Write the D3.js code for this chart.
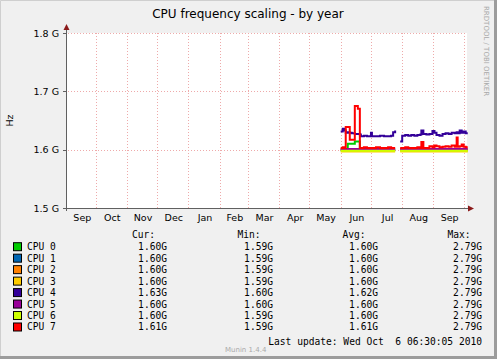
<!DOCTYPE html>
<html>
<head>
<meta charset="utf-8">
<script src="https://cdn.jsdelivr.net/npm/d3@7"></script>
<style>
  body { margin: 0; background: #fff; }
  svg { display: block; }
</style>
</head>
<body>
<svg id="chart" width="497" height="359"></svg>
<script>
// breakpoints (rrd style steps), null = no data (gap end of july)
var dates = [
  "2010-06-01","2010-06-03","2010-06-05","2010-06-06","2010-06-08","2010-06-10","2010-06-12","2010-06-15",
  "2010-06-18","2010-06-20","2010-06-21","2010-06-24","2010-06-27","2010-06-30","2010-07-01","2010-07-02",
  "2010-07-06","2010-07-10","2010-07-14","2010-07-18","2010-07-21","2010-07-23","2010-07-25","2010-07-26",
  "2010-07-30","2010-08-01","2010-08-04","2010-08-07","2010-08-10","2010-08-13","2010-08-16","2010-08-19",
  "2010-08-20","2010-08-22","2010-08-25","2010-08-28","2010-08-31","2010-09-02","2010-09-04","2010-09-07",
  "2010-09-10","2010-09-13","2010-09-16","2010-09-19","2010-09-22","2010-09-24","2010-09-25","2010-09-27",
  "2010-09-29","2010-10-01","2010-10-03","2010-10-05"];

var cpu0 = [1.600,1.600,1.600,1.600,1.610,1.610,1.610,1.614, 1.614,1.600,1.600,1.600,1.600,1.600,1.600,1.600,
  1.600,1.600,1.600,1.600,1.600,1.600,1.600,null, 1.600,1.600,1.600,1.600,1.600,1.600,1.600,1.600,
  1.600,1.600,1.600,1.600,1.600,1.600,1.600,1.600, 1.600,1.600,1.600,1.600,1.600,1.600,1.600,1.600,
  1.600,1.600,1.600,1.600];
var cpu1 = [1.599,1.599,1.599,1.599,1.599,1.599,1.599,1.599, 1.599,1.599,1.599,1.599,1.599,1.599,1.599,1.599,
  1.599,1.599,1.599,1.599,1.599,1.599,1.599,null, 1.599,1.599,1.599,1.599,1.599,1.599,1.599,1.599,
  1.599,1.599,1.599,1.599,1.599,1.599,1.599,1.599, 1.599,1.599,1.599,1.599,1.599,1.599,1.599,1.599,
  1.599,1.599,1.599,1.599];
var cpu2 = [1.600,1.600,1.600,1.600,1.600,1.600,1.600,1.600, 1.600,1.600,1.600,1.600,1.600,1.600,1.600,1.600,
  1.600,1.600,1.600,1.600,1.600,1.600,1.600,null, 1.600,1.600,1.600,1.600,1.600,1.600,1.600,1.600,
  1.600,1.600,1.600,1.600,1.600,1.600,1.600,1.600, 1.600,1.600,1.600,1.600,1.600,1.600,1.600,1.600,
  1.600,1.600,1.600,1.600];
var cpu3 = [1.597,1.597,1.597,1.597,1.597,1.597,1.597,1.597, 1.597,1.597,1.597,1.597,1.597,1.597,1.597,1.597,
  1.597,1.597,1.597,1.597,1.597,1.597,1.597,null, 1.597,1.597,1.597,1.597,1.597,1.597,1.597,1.597,
  1.597,1.597,1.597,1.597,1.597,1.597,1.597,1.597, 1.597,1.597,1.597,1.597,1.597,1.597,1.597,1.597,
  1.597,1.597,1.597,1.597];
var cpu4 = [1.631,1.636,1.633,1.629,1.630,1.629,1.628,1.627, 1.627,1.626,1.623,1.624,1.623,1.623,1.629,1.623,
  1.623,1.624,1.623,1.623,1.624,1.630,1.633,null, 1.614,1.624,1.625,1.624,1.625,1.624,1.625,1.626,
  1.633,1.627,1.626,1.627,1.632,1.629,1.625,1.624, 1.627,1.628,1.627,1.629,1.628,1.630,1.628,1.633,
  1.629,1.631,1.628,1.628];
var cpu5 = [1.601,1.601,1.601,1.601,1.601,1.601,1.601,1.601, 1.601,1.601,1.601,1.601,1.601,1.601,1.601,1.601,
  1.601,1.601,1.601,1.601,1.601,1.601,1.601,null, 1.601,1.601,1.601,1.601,1.601,1.601,1.601,1.601,
  1.601,1.601,1.601,1.601,1.601,1.601,1.601,1.601, 1.601,1.601,1.601,1.601,1.601,1.601,1.601,1.601,
  1.601,1.601,1.601,1.601];
var cpu6 = [1.598,1.598,1.598,1.598,1.598,1.598,1.598,1.598, 1.598,1.598,1.598,1.598,1.598,1.598,1.598,1.598,
  1.598,1.598,1.598,1.598,1.598,1.598,1.598,null, 1.598,1.598,1.598,1.598,1.598,1.598,1.598,1.598,
  1.598,1.598,1.598,1.598,1.598,1.598,1.598,1.598, 1.598,1.598,1.598,1.598,1.598,1.598,1.598,1.598,
  1.598,1.598,1.598,1.598];
var cpu7 = [1.603,1.604,1.603,1.639,1.639,1.617,1.617,1.675, 1.670,1.603,1.603,1.604,1.603,1.603,1.603,1.603,
  1.604,1.603,1.603,1.604,1.603,1.603,1.603,null, 1.603,1.603,1.604,1.603,1.603,1.603,1.604,1.603,
  1.613,1.603,1.603,1.606,1.604,1.607,1.606,1.604, 1.605,1.606,1.605,1.607,1.605,1.621,1.605,1.606,
  1.609,1.605,1.604,1.604];

var names = ["CPU 0","CPU 1","CPU 2","CPU 3","CPU 4","CPU 5","CPU 6","CPU 7"];
var colors = ["#00cc00","#0066b3","#ff8000","#ffcc00","#330099","#990099","#ccff00","#ff0000"];
var curVals = ["1.60G","1.60G","1.60G","1.60G","1.63G","1.60G","1.60G","1.61G"];
var minVals = ["1.59G","1.59G","1.59G","1.59G","1.60G","1.60G","1.59G","1.59G"];
var avgVals = ["1.60G","1.60G","1.60G","1.60G","1.62G","1.60G","1.60G","1.61G"];
var maxVals = ["2.79G","2.79G","2.79G","2.79G","2.79G","2.79G","2.79G","2.79G"];
var yTicks = [1.5, 1.6, 1.7, 1.8];
var yTickLabels = ["1.5 G","1.6 G","1.7 G","1.8 G"];
var monthNames = ["Jan","Feb","Mar","Apr","May","Jun","Jul","Aug","Sep","Oct","Nov","Dec"];

var series = [cpu0,cpu1,cpu2,cpu3,cpu4,cpu5,cpu6,cpu7];
var parse = d3.timeParse("%Y-%m-%d");
var W = 497, H = 359;
var plotL = 67, plotR = 467, plotT = 33, plotB = 208;

var svg = d3.select("#chart");
var sans = "DejaVu Sans, sans-serif";
var mono = "DejaVu Sans Mono, monospace";

// background + frame
svg.append("rect").attr("width", W).attr("height", H).attr("fill", "#f0f0f0");
svg.append("path").attr("d", "M0.5," + (H - 1) + "V0.5H" + (W - 1)).attr("stroke", "#cfcfcf").attr("fill", "none");
svg.append("path").attr("d", "M" + (W - 1.5) + ",0V" + (H - 1.5) + "H0").attr("stroke", "#9c9c9c").attr("stroke-width", 3).attr("fill", "none");

svg.append("rect").attr("x", plotL).attr("y", plotT).attr("width", plotR - plotL).attr("height", plotB - plotT).attr("fill", "#fff");

var x = d3.scaleTime()
  .domain([new Date(2009, 8, 2, 14), new Date(2010, 9, 5, 6)])
  .range([plotL, plotR + 1]);
var y = d3.scaleLinear().domain([1.5, 1.8]).range([plotB, plotT]);

// grid
var gridCol = "#eeaaaa";
var months = d3.timeMonth.range(new Date(2009, 9, 1), new Date(2010, 9, 2));
svg.append("g").selectAll("line").data(months).join("line")
  .attr("x1", function(d){ return Math.round(x(d)) + 0.5; })
  .attr("x2", function(d){ return Math.round(x(d)) + 0.5; })
  .attr("y1", plotT).attr("y2", plotB + 2)
  .attr("stroke", gridCol).attr("stroke-dasharray", "1,2");
svg.append("g").selectAll("line").data(yTicks.slice(1)).join("line")
  .attr("x1", plotL - 2).attr("x2", plotR)
  .attr("y1", function(d){ return Math.round(y(d)) + 0.5; })
  .attr("y2", function(d){ return Math.round(y(d)) + 0.5; })
  .attr("stroke", gridCol).attr("stroke-dasharray", "1,2");

// y labels
svg.append("g").selectAll("text").data(yTicks).join("text")
  .attr("x", plotL - 8).attr("y", function(d){ return y(d) + 3.5; })
  .attr("text-anchor", "end").attr("font-family", sans).attr("font-size", 9.5)
  .attr("fill", "#000").text(function(d, i){ return yTickLabels[i]; });

// month labels, centred in the month
var labelMonths = d3.timeMonth.range(new Date(2009, 8, 1), new Date(2010, 9, 1));
svg.append("g").selectAll("text").data(labelMonths).join("text")
  .attr("x", function(d){
    var a = Math.max(x(d), plotL), b = x(d3.timeMonth.offset(d, 1));
    return (a + b) / 2 + 1;
  })
  .attr("y", 221).attr("text-anchor", "middle")
  .attr("font-family", sans).attr("font-size", 9.5).attr("fill", "#000")
  .text(function(d){ return monthNames[d.getMonth()]; });

// lines
var line = d3.line()
  .defined(function(d){ return d.v != null; })
  .x(function(d){ return x(d.t); })
  .y(function(d){ return y(d.v); })
  .curve(d3.curveStepAfter);
series.forEach(function(vals, i){
  var pts = dates.map(function(s, j){ return { t: parse(s), v: vals[j] }; });
  svg.append("path").datum(pts).attr("d", line)
    .attr("fill", "none").attr("stroke", colors[i]).attr("stroke-width", 2);
});

// axes
svg.append("line").attr("x1", plotL - 4).attr("x2", plotR + 2).attr("y1", plotB + 0.5).attr("y2", plotB + 0.5).attr("stroke", "#606060");
svg.append("line").attr("x1", plotL - 0.5).attr("x2", plotL - 0.5).attr("y1", plotB + 3).attr("y2", plotT - 4).attr("stroke", "#606060");
svg.append("path").attr("d", "M" + (plotL - 3.5) + "," + (plotT - 3) + "L" + (plotL - 0.5) + "," + (plotT - 9) + "L" + (plotL + 2.5) + "," + (plotT - 3) + "Z").attr("fill", "#8b1a1a");
svg.append("path").attr("d", "M" + (plotR + 1) + "," + (plotB - 2.5) + "L" + (plotR + 7) + "," + (plotB + 0.5) + "L" + (plotR + 1) + "," + (plotB + 3.5) + "Z").attr("fill", "#8b1a1a");
svg.append("g").selectAll("line").data(yTicks).join("line")
  .attr("x1", plotL - 4).attr("x2", plotL)
  .attr("y1", function(d){ return Math.round(y(d)) + 0.5; })
  .attr("y2", function(d){ return Math.round(y(d)) + 0.5; })
  .attr("stroke", "#606060");

// titles
svg.append("text").attr("x", 248).attr("y", 18).attr("text-anchor", "middle")
  .attr("font-family", sans).attr("font-size", 12).attr("fill", "#000")
  .text("CPU frequency scaling - by year");
svg.append("text").attr("transform", "translate(13," + ((plotT + plotB) / 2) + ") rotate(-90)")
  .attr("text-anchor", "middle").attr("font-family", sans).attr("font-size", 9.5).attr("fill", "#000")
  .text("Hz");
svg.append("text").attr("transform", "translate(484,6) rotate(90)")
  .attr("font-family", sans).attr("font-size", 7).attr("fill", "#a8a8a8")
  .text("RRDTOOL / TOBI OETIKER");

// legend
var cols = [{ x: 167, v: curVals, h: "Cur:" }, { x: 273, v: minVals, h: "Min:" },
            { x: 378, v: avgVals, h: "Avg:" }, { x: 482, v: maxVals, h: "Max:" }];
var legend = svg.append("g").attr("font-family", mono).attr("font-size", 9.6).attr("fill", "#000");
var headX = [132, 237.5, 342.5, 447.5];
cols.forEach(function(c, k){
  legend.append("text").attr("x", headX[k]).attr("y", 237.5).text(c.h);
});
names.forEach(function(n, i){
  var ry = 246.7 + i * 11.47;
  legend.append("rect").attr("x", 13.5).attr("y", ry - 4).attr("width", 8).attr("height", 8)
    .attr("fill", colors[i]).attr("stroke", "#000").attr("stroke-width", 1);
  legend.append("text").attr("x", 27).attr("y", ry + 3.5).text(n);
  cols.forEach(function(c){
    legend.append("text").attr("x", c.x).attr("y", ry + 3.5).attr("text-anchor", "end").text(c.v[i]);
  });
});
legend.append("text").attr("x", 482).attr("y", 344.5).attr("text-anchor", "end")
  .text("Last update: Wed Oct  6 06:30:05 2010").attr("xml:space", "preserve").style("white-space", "pre");
svg.append("text").attr("x", 225).attr("y", 352).attr("font-family", sans).attr("font-size", 7)
  .attr("fill", "#aaaaaa").text("Munin 1.4.4");
</script>
</body>
</html>
